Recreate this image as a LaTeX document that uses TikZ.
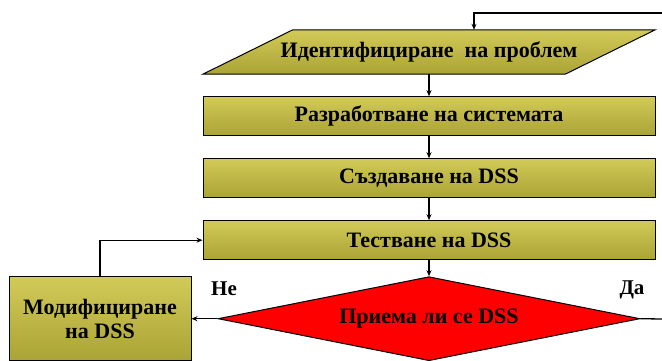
\documentclass[tikz,border=0pt]{standalone}
\usepackage{fontspec}
\setmainfont{Liberation Serif}
\usetikzlibrary{positioning,shapes.geometric,arrows.meta,calc,backgrounds}

\definecolor{olivetop}{HTML}{D2CA58}
\definecolor{olivemid}{HTML}{FFFF74}
\definecolor{olivebot}{HTML}{AAA436}

\tikzset{
  shadefill/.style={draw=black, line width=1pt, top color=olivetop,
    middle color=olivemid, bottom color=olivebot},
  stepbox/.style={shadefill, inner sep=0pt,
    minimum width=452pt, minimum height=39pt,
    font=\fontsize{22}{24}\selectfont\bfseries},
  inbox/.style={inner sep=0pt, minimum width=362pt, minimum height=44pt,
    font=\fontsize{22}{24}\selectfont\bfseries},
  askbox/.style={diamond, draw=black, line width=1pt, fill=red, aspect=5,
    inner sep=0pt, minimum width=422pt, minimum height=84pt,
    font=\fontsize{22}{24}\selectfont\bfseries},
  arr/.style={line width=1.3pt, -{Stealth[length=6pt,width=5pt]}},
  lbl/.style={font=\fontsize{21}{23}\selectfont\bfseries}
}

\begin{document}
\begin{tikzpicture}[x=1pt,y=-1pt]
  \useasboundingbox (0,0) rectangle (662,361);

  % main column
  \node[inbox] (ident) at (429,52) {Идентифициране~ на проблем};
  \node[stepbox, below=22pt of ident] (develop) {Разработване на системата};
  \node[stepbox, below=22pt of develop] (create) {Създаване на DSS};
  \node[stepbox, below=22pt of create] (test) {Тестване на DSS};
  \node[askbox, below=16pt of test] (accept) {Приема ли се DSS};
  \node[stepbox, left=26pt of accept, minimum width=182pt,
    minimum height=84pt, align=center] (modify) {Модифициране\\на DSS};

  % slanted input box behind the first node
  \begin{scope}[on background layer]
    \path[shadefill] ($(ident.north west)+(45,0)$) -- ($(ident.north east)+(45,0)$)
      -- ($(ident.south east)+(-45,0)$) -- ($(ident.south west)+(-45,0)$) -- cycle;
  \end{scope}

  % branch labels
  \node[lbl] (no) at (224,289) {Не};
  \node[lbl] (yes) at (632,290) {Да};

  \coordinate (loopin) at (662,13);
  \coordinate (loopout) at (662,319);
  \coordinate (identtop) at ($(ident.north)+(45,0)$);

  \draw[arr] (ident) -- (develop);
  \draw[arr] (develop) -- (create);
  \draw[arr] (create) -- (test);
  \draw[arr] (test) -- (accept);
  \draw[arr] (accept) -- (modify);
  \draw[arr] (modify.north) |- (test.west);
  \draw[arr] (loopin) -| (identtop);
  \draw[line width=1.3pt] (accept.east) -- (loopout);
\end{tikzpicture}
\end{document}
